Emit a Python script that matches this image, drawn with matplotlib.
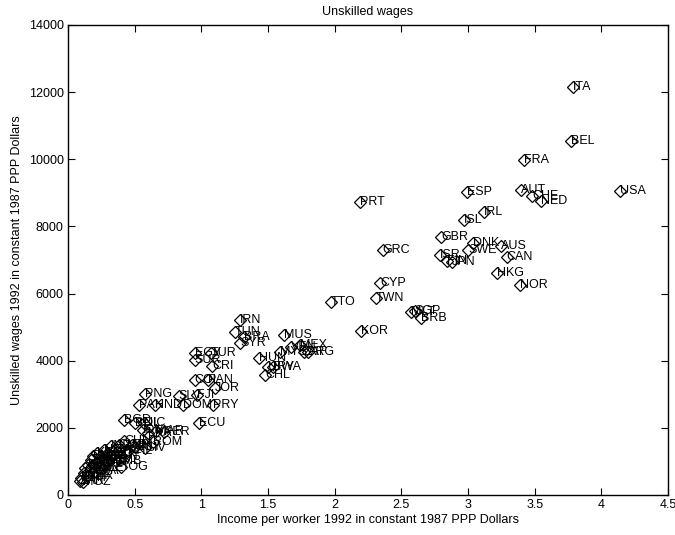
import matplotlib
matplotlib.use("Agg")
import matplotlib.pyplot as plt

countries = [
    "ITA", "BEL", "FRA", "ESP", "AUT", "CHE", "NED", "USA", "PRT", "IRL",
    "ISL", "GBR", "DNK", "AUS", "SWE", "ISR", "FIN", "JPN", "CAN", "HKG",
    "NOR", "GRC", "CYP", "TWN", "TTO", "MLT", "SGP", "BRB", "KOR",
    "IRN", "TUN", "BRA", "SYR", "MUS", "MYS", "VEN", "MEX", "ZAF", "ARG",
    "EGY", "TUR", "SUR", "CRI", "HUN", "URY", "BWA", "CHL", "COL", "PAN",
    "JOR", "PNG", "SLV", "FJI", "PAK", "HND", "DOM", "PRY", "BGD", "BOL",
    "NIC", "ECU", "IDN", "LKA", "MAR", "PER", "ROM", "GUY", "CIV", "TOG",
    "ZAR", "ETH", "MOZ", "MWI", "TCD", "NER", "BDI", "UGA", "TZA", "MLI",
    "RWA", "BFA", "MDG", "KEN", "GMB", "SLE", "GHA", "CAF", "NGA", "BEN",
    "HTI", "LSO", "IND", "SEN", "ZWE", "ZMB", "CMR", "CHN", "PHL", "NPL",
]
income = [
    3.79, 3.77, 3.42, 2.99, 3.40, 3.48, 3.55, 4.14, 2.19, 3.12,
    2.97, 2.80, 3.04, 3.25, 3.00, 2.79, 2.84, 2.88, 3.29, 3.22,
    3.39, 2.36, 2.34, 2.31, 1.97, 2.57, 2.60, 2.65, 2.20,
    1.29, 1.25, 1.32, 1.29, 1.62, 1.59, 1.67, 1.74, 1.77, 1.80,
    0.95, 1.07, 0.95, 1.08, 1.43, 1.50, 1.54, 1.48, 0.95, 1.05,
    1.10, 0.58, 0.83, 0.97, 0.53, 0.65, 0.86, 1.09, 0.42, 0.50,
    0.57, 0.98, 0.56, 0.60, 0.66, 0.72, 0.64, 0.50, 0.58, 0.40,
    0.09, 0.10, 0.11, 0.12, 0.13, 0.14, 0.15, 0.16, 0.17, 0.18,
    0.19, 0.20, 0.21, 0.22, 0.23, 0.24, 0.25, 0.26, 0.27, 0.28,
    0.29, 0.30, 0.32, 0.33, 0.35, 0.36, 0.38, 0.42, 0.45, 0.48,
]
wages = [
    12150, 10550, 9980, 9030, 9080, 8900, 8770, 9040, 8740, 8440,
    8190, 7690, 7500, 7420, 7300, 7150, 6980, 6950, 7080, 6600,
    6240, 7290, 6310, 5860, 5760, 5460, 5490, 5260, 4890,
    5210, 4860, 4720, 4520, 4770, 4270, 4420, 4470, 4270, 4270,
    4220, 4220, 4020, 3840, 4070, 3820, 3820, 3570, 3420, 3420,
    3180, 3010, 2950, 2980, 2680, 2680, 2680, 2680, 2230, 2150,
    2130, 2130, 1950, 1850, 1900, 1880, 1590, 1420, 1400, 830,
    420, 520, 380, 650, 800, 560, 900, 720, 1050, 850,
    1150, 700, 950, 1250, 1050, 800, 1150, 950, 1350, 1100,
    1000, 1250, 1450, 1150, 1350, 1000, 1500, 1600, 1300, 1500,
]

x_ticks = [0, 0.5, 1, 1.5, 2, 2.5, 3, 3.5, 4, 4.5]
x_tick_labels = ["0", "0.5", "1", "1.5", "2", "2.5", "3", "3.5", "4", "4.5"]
y_ticks = [0, 2000, 4000, 6000, 8000, 10000, 12000, 14000]
y_tick_labels = ["0", "2000", "4000", "6000", "8000", "10000", "12000", "14000"]

plt.rcParams["font.family"] = ["Liberation Sans", "DejaVu Sans"]

fig = plt.figure(figsize=(6.75, 5.35), dpi=100)
ax = fig.add_axes([0.1007, 0.0748, 0.889, 0.8785])

ax.plot(income, wages, linestyle="none", marker="D", markersize=6,
        markerfacecolor="none", markeredgecolor="black", markeredgewidth=0.9)
for name, xv, yv in zip(countries, income, wages):
    ax.text(xv, yv, name, fontsize=9, ha="left", va="center", color="black")

ax.set_xlim(0, 4.5)
ax.set_ylim(0, 14000)
ax.set_xticks(x_ticks)
ax.set_xticklabels(x_tick_labels)
ax.set_yticks(y_ticks)
ax.set_yticklabels(y_tick_labels)
ax.tick_params(direction="in", length=5, width=0.8, top=True, right=True,
               labelsize=9, pad=3)
for sp in ax.spines.values():
    sp.set_linewidth(1.0)

ax.set_title("Unskilled wages", fontsize=9, pad=7)
ax.set_xlabel("Income per worker 1992 in constant 1987 PPP Dollars", fontsize=9, labelpad=2)
ax.set_ylabel("Unskilled wages 1992 in constant 1987 PPP Dollars", fontsize=9, labelpad=4)

fig.savefig("out.png", dpi=100)
